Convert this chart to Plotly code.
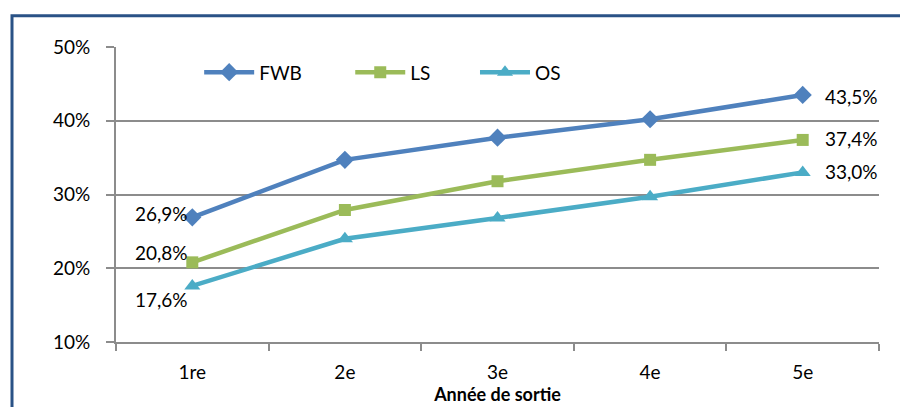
import plotly.graph_objects as go

categories = ["1re", "2e", "3e", "4e", "5e"]
fwb = [26.9, 34.7, 37.7, 40.2, 43.5]
ls = [20.8, 27.9, 31.8, 34.7, 37.4]
os_ = [17.6, 24.0, 26.8, 29.7, 33.0]
series_names = ["FWB", "LS", "OS"]
y_ticks = [10, 20, 30, 40, 50]

FONT = "Lato"
FS = 19
colors = ["#4F81BD", "#9BBB59", "#4BACC6"]
symbols = ["diamond", "square", "triangle-up"]
msizes = [14, 12, 14]
legend_ids = ["legend", "legend2", "legend3"]
legend_x = [0.109, 0.307, 0.4705]

fig = go.Figure()
for name, vals, c, s, ms, lid in zip(series_names, [fwb, ls, os_], colors, symbols, msizes, legend_ids):
    fig.add_trace(go.Scatter(
        x=categories, y=vals, name=name, mode="lines+markers",
        line=dict(color=c, width=4.5),
        marker=dict(symbol=s, size=ms, color=c),
        legend=lid,
    ))

def fmt(v):
    return f"{v:.1f}%".replace(".", ",")

# first-point labels (left of point)
first_shifts = [4, 10, -14]
for vals, ys in zip([fwb, ls, os_], first_shifts):
    fig.add_annotation(x=categories[0], y=vals[0], text=fmt(vals[0]), showarrow=False,
                       xanchor="right", yanchor="middle", xshift=-2, yshift=ys,
                       font=dict(family=FONT, size=FS, color="black"))
# last-point labels (right of point)
last_shifts = [-2, 1, 1]
for vals, ys in zip([fwb, ls, os_], last_shifts):
    fig.add_annotation(x=categories[-1], y=vals[-1], text=fmt(vals[-1]), showarrow=False,
                       xanchor="left", yanchor="middle", xshift=20, yshift=ys,
                       font=dict(family=FONT, size=FS, color="black"))

# outer frame (partially visible)
fig.add_shape(type="rect", xref="paper", yref="paper",
              x0=-0.1363, x1=1.2, y0=-0.4, y1=1.106,
              line=dict(color="#2A5286", width=3), fillcolor="rgba(0,0,0,0)", layer="below")

legend_common = dict(orientation="h", y=0.914, xanchor="left", yanchor="middle",
                     font=dict(family=FONT, size=FS, color="black"),
                     bgcolor="rgba(0,0,0,0)", itemwidth=50)

fig.update_layout(
    width=900, height=399,
    margin=dict(l=108, r=29, t=39, b=61),
    plot_bgcolor="white", paper_bgcolor="white",
    font=dict(family=FONT, size=FS, color="black"),
    showlegend=True,
    legend=dict(x=legend_x[0], **legend_common),
    legend2=dict(x=legend_x[1], **legend_common),
    legend3=dict(x=legend_x[2], **legend_common),
    xaxis=dict(
        type="category", range=[-0.5, 4.5],
        showline=True, linecolor="#8C8C8C", linewidth=2,
        ticks="outside", tickson="boundaries", ticklen=7, tickcolor="#8C8C8C", tickwidth=2,
        ticklabelstandoff=12, showgrid=False,
        title=dict(text="<b>Année de sortie</b>", font=dict(family=FONT, size=18, color="black"), standoff=0),
    ),
    yaxis=dict(
        range=[10, 50], tickvals=y_ticks, ticktext=[f"{t}%" for t in y_ticks],
        showline=True, linecolor="#8C8C8C", linewidth=2,
        ticks="outside", ticklen=8, tickcolor="#8C8C8C", tickwidth=2,
        ticklabelstandoff=12,
        showgrid=True, gridcolor="#8C8C8C", gridwidth=1.5, zeroline=False,
    ),
)

fig.write_html("out.html")
